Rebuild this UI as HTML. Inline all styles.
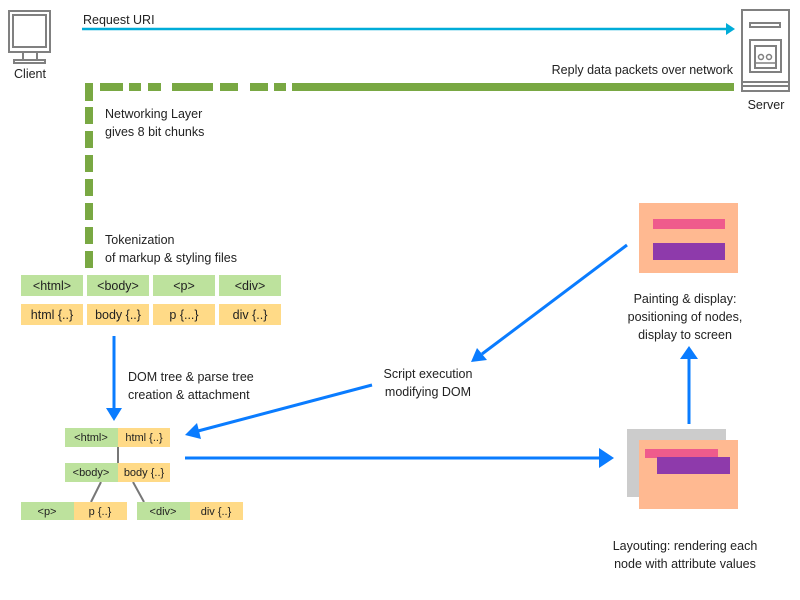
<!DOCTYPE html>
<html><head><meta charset="utf-8"><style>
body{margin:0;background:#fff}
svg{display:block}
text{font-family:"Liberation Sans",sans-serif;font-size:12.5px;fill:#222}
.s{font-size:11px}
</style></head><body>
<svg width="800" height="600" viewBox="0 0 800 600">
<defs>
<marker id="ab" markerWidth="8" markerHeight="8" refX="7" refY="4" orient="auto" markerUnits="userSpaceOnUse"><path d="M0,0 L8,4 L0,8Z" fill="#0a7cff"/></marker>
</defs>
<!-- client -->
<g fill="none" stroke="#808080" stroke-width="2">
<rect x="9" y="11" width="41" height="41"/>
<rect x="13" y="15" width="33" height="32"/>
<path d="M23,52 V60 M37,52 V60"/>
<rect x="14" y="60" width="31" height="3"/>
</g>
<text x="30" y="78" text-anchor="middle">Client</text>
<!-- server -->
<g fill="none" stroke="#808080" stroke-width="2">
<rect x="742" y="10" width="47" height="81"/>
<rect x="750" y="23" width="30" height="4"/>
<rect x="750" y="40" width="31" height="32"/>
<rect x="755" y="46" width="21" height="22"/>
<path d="M742,82 H789 M742,86 H789"/>
<circle cx="761" cy="57" r="2.5" stroke-width="1.5"/><circle cx="769" cy="57" r="2.5" stroke-width="1.5"/>
<path d="M755,63 H776" stroke-width="1.5"/>
</g>
<text x="766" y="109" text-anchor="middle">Server</text>
<!-- request -->
<text x="83" y="24">Request URI</text>
<line x1="82" y1="29" x2="727" y2="29" stroke="#00acd8" stroke-width="2.5"/>
<path d="M726,23 L735,29 L726,35Z" fill="#00acd8"/>
<text x="733" y="74" text-anchor="end">Reply data packets over network</text>
<!-- green dashes -->
<g fill="#79a843">
<rect x="100" y="83" width="23" height="8"/><rect x="129" y="83" width="12" height="8"/><rect x="148" y="83" width="13" height="8"/>
<rect x="172" y="83" width="41" height="8"/><rect x="220" y="83" width="18" height="8"/><rect x="250" y="83" width="18" height="8"/>
<rect x="274" y="83" width="12" height="8"/><rect x="292" y="83" width="442" height="8"/>
<rect x="85" y="83" width="8" height="18"/><rect x="85" y="107" width="8" height="17"/><rect x="85" y="131" width="8" height="17"/>
<rect x="85" y="155" width="8" height="17"/><rect x="85" y="179" width="8" height="17"/><rect x="85" y="203" width="8" height="17"/>
<rect x="85" y="227" width="8" height="17"/><rect x="85" y="251" width="8" height="17"/>
</g>
<text x="105" y="118">Networking Layer</text>
<text x="105" y="136">gives 8 bit chunks</text>
<text x="105" y="244">Tokenization</text>
<text x="105" y="262">of markup &amp; styling files</text>
<!-- tokens -->
<g fill="#bde29d">
<rect x="21" y="275" width="62" height="21"/><rect x="87" y="275" width="62" height="21"/><rect x="153" y="275" width="62" height="21"/><rect x="219" y="275" width="62" height="21"/>
</g>
<g fill="#ffda87">
<rect x="21" y="304" width="62" height="21"/><rect x="87" y="304" width="62" height="21"/><rect x="153" y="304" width="62" height="21"/><rect x="219" y="304" width="62" height="21"/>
</g>
<g text-anchor="middle">
<text x="52" y="290">&lt;html&gt;</text><text x="118" y="290">&lt;body&gt;</text><text x="184" y="290">&lt;p&gt;</text><text x="250" y="290">&lt;div&gt;</text>
<text x="52" y="319">html {..}</text><text x="118" y="319">body {..}</text><text x="184" y="319">p {...}</text><text x="250" y="319">div {..}</text>
</g>
<!-- down arrow -->
<line x1="114" y1="336" x2="114" y2="410" stroke="#0a7cff" stroke-width="3"/>
<path d="M106,408 L114,421 L122,408Z" fill="#0a7cff"/>
<text x="128" y="381">DOM tree &amp; parse tree</text>
<text x="128" y="399">creation &amp; attachment</text>
<!-- tree -->
<g stroke="#777" stroke-width="2"><path d="M118,447 V463 M101,482 L91,502 M133,482 L144,502"/></g>
<rect x="65" y="428" width="53" height="19" fill="#bde29d"/><rect x="118" y="428" width="52" height="19" fill="#ffda87"/>
<rect x="65" y="463" width="53" height="19" fill="#bde29d"/><rect x="118" y="463" width="52" height="19" fill="#ffda87"/>
<rect x="21" y="502" width="53" height="18" fill="#bde29d"/><rect x="74" y="502" width="53" height="18" fill="#ffda87"/>
<rect x="137" y="502" width="53" height="18" fill="#bde29d"/><rect x="190" y="502" width="53" height="18" fill="#ffda87"/>
<g class="s" text-anchor="middle">
<text class="s" x="91" y="441">&lt;html&gt;</text><text class="s" x="144" y="441">html {..}</text>
<text class="s" x="91" y="476">&lt;body&gt;</text><text class="s" x="144" y="476">body {..}</text>
<text class="s" x="47" y="515">&lt;p&gt;</text><text class="s" x="100" y="515">p {..}</text>
<text class="s" x="163" y="515">&lt;div&gt;</text><text class="s" x="216" y="515">div {..}</text>
</g>
<!-- script -->
<text x="428" y="378" text-anchor="middle">Script execution</text>
<text x="428" y="396" text-anchor="middle">modifying DOM</text>
<line x1="372" y1="385" x2="198" y2="431" stroke="#0a7cff" stroke-width="3"/>
<path d="M185,435 L197,423 L201,439Z" fill="#0a7cff"/>
<line x1="627" y1="245" x2="482" y2="354" stroke="#0a7cff" stroke-width="3"/>
<path d="M471,362 L477,348 L487,360Z" fill="#0a7cff"/>
<!-- horizontal -->
<line x1="185" y1="458" x2="600" y2="458" stroke="#0a7cff" stroke-width="3"/>
<path d="M599,448 L614,458 L599,468Z" fill="#0a7cff"/>
<!-- painting -->
<rect x="639" y="203" width="99" height="70" fill="#ffb991"/>
<rect x="653" y="219" width="72" height="10" fill="#ef5b8c"/>
<rect x="653" y="243" width="72" height="17" fill="#8e3aab"/>
<text x="685" y="303" text-anchor="middle">Painting &amp; display:</text>
<text x="685" y="321" text-anchor="middle">positioning of nodes,</text>
<text x="685" y="339" text-anchor="middle">display to screen</text>
<line x1="689" y1="424" x2="689" y2="358" stroke="#0a7cff" stroke-width="3"/>
<path d="M680,359 L689,346 L698,359Z" fill="#0a7cff"/>
<!-- layout -->
<rect x="627" y="429" width="99" height="68" fill="#cccccc"/>
<rect x="639" y="440" width="99" height="69" fill="#ffb991"/>
<rect x="645" y="449" width="73" height="9" fill="#ef5b8c"/>
<rect x="657" y="457" width="73" height="17" fill="#8e3aab"/>
<text x="685" y="550" text-anchor="middle">Layouting: rendering each</text>
<text x="685" y="568" text-anchor="middle">node with attribute values</text>
</svg>
</body></html>
